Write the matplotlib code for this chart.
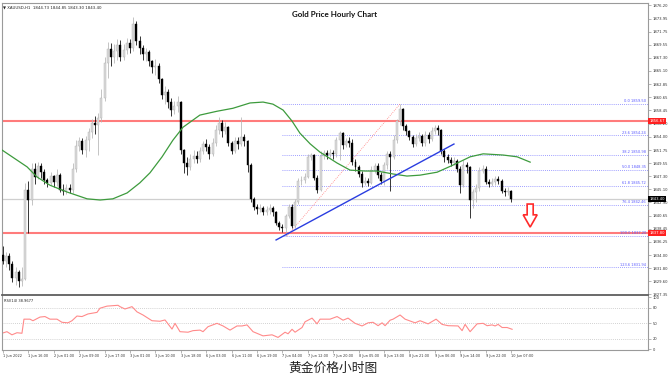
import numpy as np
import matplotlib
matplotlib.use("Agg")
import matplotlib.pyplot as plt
import matplotlib.transforms as mtransforms
from matplotlib.patches import Polygon

# ---------------- data ----------------
closes = [
    1833.0, 1833.8, 1832.5, 1830.2, 1831.2, 1829.6, 1830.0, 1845.0, 1843.3, 1848.5,
    1847.2, 1849.0, 1848.0, 1846.6, 1846.2, 1847.3, 1846.4, 1847.5, 1845.0, 1844.8,
    1845.3, 1845.0, 1848.5, 1852.5, 1853.2, 1851.8, 1853.5, 1854.8, 1856.3, 1856.0,
    1857.2, 1860.5, 1866.5, 1868.8, 1867.5, 1868.5, 1869.5, 1867.5, 1868.6, 1869.8,
    1869.0, 1873.0, 1870.2, 1869.0, 1867.9, 1868.3, 1866.8, 1865.7, 1866.0, 1863.8,
    1861.0, 1861.5, 1859.8, 1858.5, 1859.2, 1859.8, 1851.8, 1849.5, 1848.9, 1850.2,
    1850.8, 1850.3, 1851.5, 1852.7, 1852.2, 1851.0, 1853.0, 1855.2, 1856.3, 1855.0,
    1855.6, 1853.0, 1851.5, 1853.3, 1852.8, 1854.0, 1853.2, 1849.2, 1843.5, 1842.2,
    1841.8, 1842.0, 1841.3, 1841.6, 1842.0, 1841.2, 1839.5, 1838.8, 1838.5, 1840.6,
    1842.2, 1838.9, 1843.0, 1846.5, 1846.6, 1847.2, 1850.5, 1850.9, 1847.0, 1845.0,
    1850.8, 1851.2, 1850.9, 1851.3, 1851.0, 1853.5, 1854.6, 1852.6, 1853.2, 1853.0,
    1849.8, 1848.8, 1847.7, 1846.1, 1846.5, 1846.2, 1848.3, 1849.0, 1847.6, 1846.5,
    1849.2, 1851.0, 1850.6, 1853.5, 1856.6, 1858.6, 1855.8, 1854.9, 1854.0, 1852.8,
    1853.8, 1854.2, 1852.9, 1854.3, 1853.6, 1855.0, 1855.5, 1855.1, 1851.5, 1850.5,
    1850.0, 1849.6, 1849.9, 1848.6, 1845.9, 1849.2, 1848.8, 1843.3, 1844.6, 1845.3,
    1848.2, 1848.6, 1846.4, 1846.0, 1846.3, 1846.8, 1846.5, 1844.9, 1844.6, 1844.9,
    1843.4,
]
highs = [
    1835.5, 1834.5, 1834.3, 1833.0, 1832.0, 1831.5, 1832.0, 1846.2, 1846.5, 1849.5,
    1849.6, 1849.8, 1849.5, 1848.5, 1847.0, 1848.0, 1847.6, 1848.6, 1847.8, 1846.0,
    1846.0, 1846.0, 1849.5, 1853.5, 1854.0, 1853.8, 1854.2, 1855.5, 1857.0, 1857.5,
    1858.0, 1862.0, 1867.5, 1870.0, 1869.8, 1869.7, 1870.5, 1870.3, 1869.6, 1870.6,
    1870.5, 1874.2, 1873.5, 1871.0, 1869.5, 1869.0, 1868.6, 1867.0, 1867.2, 1866.5,
    1864.0, 1862.5, 1862.0, 1860.5, 1860.0, 1860.8, 1860.0, 1852.0, 1850.5, 1851.0,
    1851.8, 1851.5, 1852.3, 1853.3, 1853.6, 1852.8, 1853.8, 1856.0, 1857.3, 1856.8,
    1856.4, 1855.8, 1853.2, 1854.0, 1854.0, 1857.3, 1854.5, 1853.5, 1849.5, 1843.8,
    1842.6, 1842.6, 1842.3, 1842.3, 1842.6, 1842.3, 1841.4, 1839.8, 1839.2, 1841.0,
    1842.6, 1842.6, 1843.4, 1847.0, 1847.3, 1847.8, 1851.0, 1851.3, 1851.0, 1847.5,
    1851.5, 1851.8, 1851.8, 1852.0, 1851.8, 1854.0, 1855.0, 1854.8, 1853.8, 1853.9,
    1853.6, 1850.2, 1849.2, 1848.2, 1847.2, 1847.0, 1849.0, 1849.6, 1849.5, 1848.0,
    1849.8, 1851.6, 1851.5, 1854.3, 1857.0, 1859.5, 1858.8, 1856.2, 1855.2, 1854.3,
    1854.5, 1854.8, 1854.5, 1855.0, 1854.8, 1855.6, 1856.0, 1856.0, 1855.3, 1852.0,
    1851.0, 1850.5, 1850.6, 1850.2, 1849.0, 1850.0, 1849.8, 1849.0, 1845.2, 1846.0,
    1848.8, 1849.3, 1849.0, 1846.8, 1847.0, 1847.4, 1847.4, 1846.9, 1845.4, 1845.5,
    1845.0,
]
lows = [
    1832.5, 1832.0, 1831.5, 1829.5, 1829.0, 1828.6, 1828.8, 1829.8, 1837.8, 1842.5,
    1846.0, 1846.8, 1847.0, 1846.0, 1845.5, 1845.8, 1845.5, 1845.6, 1844.6, 1844.2,
    1844.3, 1844.5, 1844.5, 1848.0, 1851.5, 1851.0, 1850.5, 1851.5, 1853.8, 1854.5,
    1850.9, 1856.5, 1860.0, 1864.0, 1866.0, 1866.5, 1867.0, 1866.8, 1867.0, 1868.0,
    1868.2, 1868.5, 1869.5, 1868.0, 1867.0, 1866.8, 1866.0, 1864.8, 1864.5, 1863.0,
    1860.3, 1859.5, 1858.8, 1857.5, 1857.8, 1858.2, 1851.0, 1847.9, 1847.5, 1848.3,
    1849.5, 1849.5, 1849.8, 1851.0, 1851.5, 1850.3, 1850.8, 1852.5, 1854.5, 1854.0,
    1854.5, 1852.5, 1851.0, 1851.2, 1852.0, 1852.5, 1852.5, 1848.0, 1843.0, 1841.6,
    1841.0, 1841.2, 1840.8, 1840.8, 1841.0, 1840.6, 1839.0, 1838.2, 1837.9, 1837.2,
    1840.2, 1838.5, 1838.6, 1842.6, 1845.9, 1846.2, 1847.0, 1850.0, 1846.6, 1844.5,
    1844.8, 1850.2, 1850.3, 1850.5, 1850.2, 1850.5, 1850.0, 1852.0, 1852.2, 1852.3,
    1849.3, 1848.2, 1847.2, 1845.5, 1845.8, 1845.6, 1846.0, 1847.8, 1847.0, 1846.0,
    1845.8, 1848.6, 1844.8, 1850.2, 1853.0, 1856.0, 1855.2, 1854.3, 1853.5, 1852.3,
    1852.5, 1853.2, 1852.4, 1852.5, 1853.0, 1853.3, 1854.5, 1854.3, 1851.0, 1849.8,
    1849.5, 1849.0, 1849.2, 1848.0, 1844.5, 1845.5, 1847.8, 1840.3, 1842.0, 1843.0,
    1844.8, 1847.8, 1846.0, 1845.5, 1845.6, 1845.8, 1846.0, 1844.5, 1844.0, 1844.2,
    1843.0,
]
first_open = 1834.0
opens = [first_open] + closes[:-1]

# moving average (bar position, price)
ma_x = [-0.3, 7.6, 10.7, 14.8, 20.2, 26.5, 30.6, 34.6, 39.1, 43.1, 46.3, 50.1, 53.5,
        56.7, 59.8, 62.0, 67.4, 72.4, 77.8, 81.9, 85.0, 88.2, 91.0, 93.5, 96.7, 99.8,
        105.2, 109.3, 114.0, 117.8, 122.8, 127.2, 131.3, 136.7, 141.7, 147.1, 151.2,
        157.5, 161.9, 166.0]
ma_y = [1851.75, 1848.9, 1847.2, 1845.8, 1844.65, 1843.5, 1843.3, 1843.5, 1844.5, 1846.2,
        1847.9, 1850.6, 1853.4, 1855.6, 1856.8, 1857.65, 1858.3, 1858.8, 1859.7, 1859.85,
        1859.5, 1858.5, 1856.65, 1854.6, 1852.8, 1851.4, 1849.55, 1848.35, 1848.2, 1848.2,
        1847.7, 1847.35, 1847.5, 1848.0, 1849.2, 1850.6, 1851.1, 1850.9, 1850.6, 1849.7]

# RSI(14) (pixel column, value)
rsi_px = [2, 7, 12, 17, 22, 24, 30, 33, 40, 45, 50, 57, 62, 68, 72, 77, 82, 88, 97, 100,
          107, 118, 120, 125, 132, 137, 143, 152, 160, 165, 172, 175, 180, 188, 193, 200,
          203, 208, 217, 223, 230, 237, 242, 247, 253, 263, 272, 278, 285, 288, 292, 295,
          302, 305, 312, 317, 320, 330, 337, 343, 348, 355, 362, 368, 373, 378, 382, 385,
          390, 393, 400, 405, 415, 420, 428, 436, 442, 448, 458, 462, 465, 470, 477, 483,
          487, 492, 495, 498, 502, 507, 512]
rsi_x = [(p - 3) / 3.175 for p in rsi_px]
rsi_v = [31, 34, 28, 32, 31, 58, 58, 55, 62, 63, 58, 58, 52, 51, 55, 64, 63, 68, 71, 79,
         83, 84.6, 82, 77.5, 82, 72, 66, 55, 54, 56.5, 39, 50, 34, 33, 36, 37,
         34, 43.6, 50, 45, 37, 45, 45, 47, 34, 26, 28, 23, 33, 30, 38.6, 33,
         42, 53, 60, 49, 58, 58, 63, 56, 60, 50, 45, 51, 52, 45.5, 51, 45.5,
         56, 58, 66, 58, 51, 55, 49, 58, 48, 45.5, 45, 36, 48, 34, 49, 50,
         45.5, 47, 45, 48, 42, 42, 38.6]

time_labels = ["1 Jun 2022", "1 Jun 16:00", "2 Jun 01:00", "2 Jun 09:00", "2 Jun 17:00",
               "3 Jun 01:00", "3 Jun 10:00", "3 Jun 18:00", "6 Jun 03:00", "6 Jun 11:00",
               "6 Jun 19:00", "7 Jun 04:00", "7 Jun 12:00", "7 Jun 20:00", "8 Jun 05:00",
               "8 Jun 13:00", "8 Jun 21:00", "9 Jun 06:00", "9 Jun 14:00", "9 Jun 22:00",
               "10 Jun 07:00"]
price_ticks = [1876.20, 1873.95, 1871.75, 1869.55, 1867.30, 1865.10, 1862.85, 1860.65,
               1858.45, 1856.20, 1854.00, 1851.75, 1849.55, 1847.30, 1845.10, 1842.90,
               1840.65, 1838.45, 1836.25, 1834.00, 1831.80, 1829.60, 1827.35]

resistance = 1856.67
support = 1837.80
fib_high, fib_low = 1859.50, 1837.20
fib_high_bar, fib_low_bar = 125.0, 89.4
fib_ratios = [0.0, 23.6, 38.2, 50.0, 61.8, 76.4, 100.0, 123.6]
fib_start_bar = 87.9
trend_x = [86.0, 142.0]
trend_y = [1836.55, 1852.76]

# ---------------- figure ----------------
W, H = 672, 376
fig = plt.figure(figsize=(W / 100, H / 100), dpi=100)
fig.patch.set_facecolor("white")

ax = fig.add_axes([2 / W, 81 / H, 646 / W, 292 / H])
rx = fig.add_axes([2 / W, 26 / H, 646 / W, 54 / H])

xmin, xmax = -0.3, 203.1
ax.set_xlim(xmin, xmax)
rx.set_xlim(xmin, xmax)
ax.set_ylim(1827.25, 1876.59)
rx.set_ylim(-1.1, 102.4)

n = len(closes)
xs = np.arange(n)
o = np.array(opens); c = np.array(closes); hi = np.array(highs); lo = np.array(lows)
bull = c >= o

# horizontal levels
ax.axhline(closes[-1], color="#cfcfcf", lw=0.9, zorder=1)
ax.axhline(resistance, color="#ff7b7b", lw=1.5, zorder=2)
ax.axhline(support, color="#ff7b7b", lw=1.5, zorder=2)

# fib levels
for r in fib_ratios:
    lvl = fib_high - r / 100 * (fib_high - fib_low)
    ax.plot([fib_start_bar, xmax], [lvl, lvl], color="#7f7fff", lw=0.6,
            ls=(0, (1, 1.5)), zorder=2)
    ax.text(xmax - 0.6, lvl + 0.12, f"{r:.1f} {lvl:.2f}", color="#5a5aff",
            fontsize=2.6, ha="right", va="bottom", zorder=3)
ax.plot([fib_low_bar, fib_high_bar], [fib_low, fib_high], color="#ff8080", lw=0.6,
        ls=(0, (1, 1.5)), zorder=2)

# candles
wick_col = np.where(bull, "#b4b4b4", "#000000")
ax.vlines(xs, lo, hi, colors=wick_col, lw=0.55, zorder=3)
body_h = np.maximum(np.abs(c - o), 0.07)
body_b = np.minimum(o, c)
ax.bar(xs[bull], body_h[bull], bottom=body_b[bull], width=0.62,
       color="#dadada", edgecolor="#b0b0b0", lw=0.3, zorder=4)
ax.bar(xs[~bull], body_h[~bull], bottom=body_b[~bull], width=0.62,
       color="#000000", edgecolor="#000000", lw=0.3, zorder=4)

# moving average & trendline
ax.plot(ma_x, ma_y, color="#3d9b3d", lw=0.9, zorder=5)
ax.plot(trend_x, trend_y, color="#2a3de0", lw=1.0, zorder=5)

# down arrow (annotation shape)
ax_c = n + 5.0
arrow = Polygon([[ax_c - 0.95, 1842.62], [ax_c + 0.95, 1842.62], [ax_c + 0.95, 1840.8],
                 [ax_c + 2.2, 1840.8], [ax_c, 1838.73], [ax_c - 2.2, 1840.8],
                 [ax_c - 0.95, 1840.8]], closed=True, fc="white", ec="#ff2a2a",
                lw=1.2, zorder=6)
ax.add_patch(arrow)

# axes styling
for a in (ax, rx):
    for s in a.spines.values():
        s.set_color("#9a9a9a")
        s.set_linewidth(0.8)
ax.spines["bottom"].set_color("#5e5e5e")
ax.spines["bottom"].set_linewidth(1.3)
rx.spines["top"].set_visible(False)

ax.set_xticks([])
ax.yaxis.tick_right()
ax.set_yticks(price_ticks)
ax.set_yticklabels([f"{v:.2f}" for v in price_ticks])
ax.tick_params(axis="y", labelsize=2.7, length=2, width=0.5, pad=1.2,
               colors="#9a9a9a", labelcolor="#333333")

trans = mtransforms.blended_transform_factory(ax.transAxes, ax.transData)
for val, fc in [(resistance, "#ff2020"), (support, "#ff2020"), (closes[-1], "#000000")]:
    ax.text(1.002, val, f"{val:.2f}", transform=trans, fontsize=2.7, color="white",
            ha="left", va="center", zorder=10, clip_on=False,
            bbox=dict(boxstyle="square,pad=0.25", fc=fc, ec="none"))

ax.text(0.002, 0.992, "\u25bc XAUUSD,H1  1844.73 1844.85 1843.30 1843.40",
        transform=ax.transAxes, fontsize=2.8, ha="left", va="top", color="#222222")

# RSI panel
for lv in (20, 50, 80):
    rx.axhline(lv, color="#c4c4c4", lw=0.6, ls=(0, (1, 1.5)))
rx.plot(rsi_x, rsi_v, color="#ff8a8a", lw=0.8)
rx.text(0.003, 0.95, "RSI(14) 38.9677", transform=rx.transAxes, fontsize=2.6,
        ha="left", va="top", color="#222222")
rx.yaxis.tick_right()
rx.set_yticks([0, 20, 50, 80, 100])
rx.set_yticklabels(["0", "20", "50", "80", "100"])
rx.tick_params(axis="y", labelsize=2.6, length=2, width=0.5, pad=1.2,
               colors="#9a9a9a", labelcolor="#333333")
rx.set_xticks(np.arange(0, 8 * len(time_labels), 8))
rx.set_xticklabels(time_labels)
rx.tick_params(axis="x", labelsize=2.5, length=2, width=0.5, pad=1.0,
               colors="#9a9a9a", labelcolor="#333333")
for lab in rx.get_xticklabels():
    lab.set_ha("left")

# titles
fig.text(0.4985, 0.962, "Gold Price Hourly Chart", fontsize=5.8, fontweight="bold",
         family=["Lato", "DejaVu Sans"], ha="center", va="center", color="#111111")
fig.text(0.4955, 0.021, "黄金价格小时图", fontsize=9.2,
         family=["Noto Sans CJK SC", "DejaVu Sans"], ha="center", va="center",
         color="#222222")

fig.savefig("out.png", dpi=100, facecolor="white")
